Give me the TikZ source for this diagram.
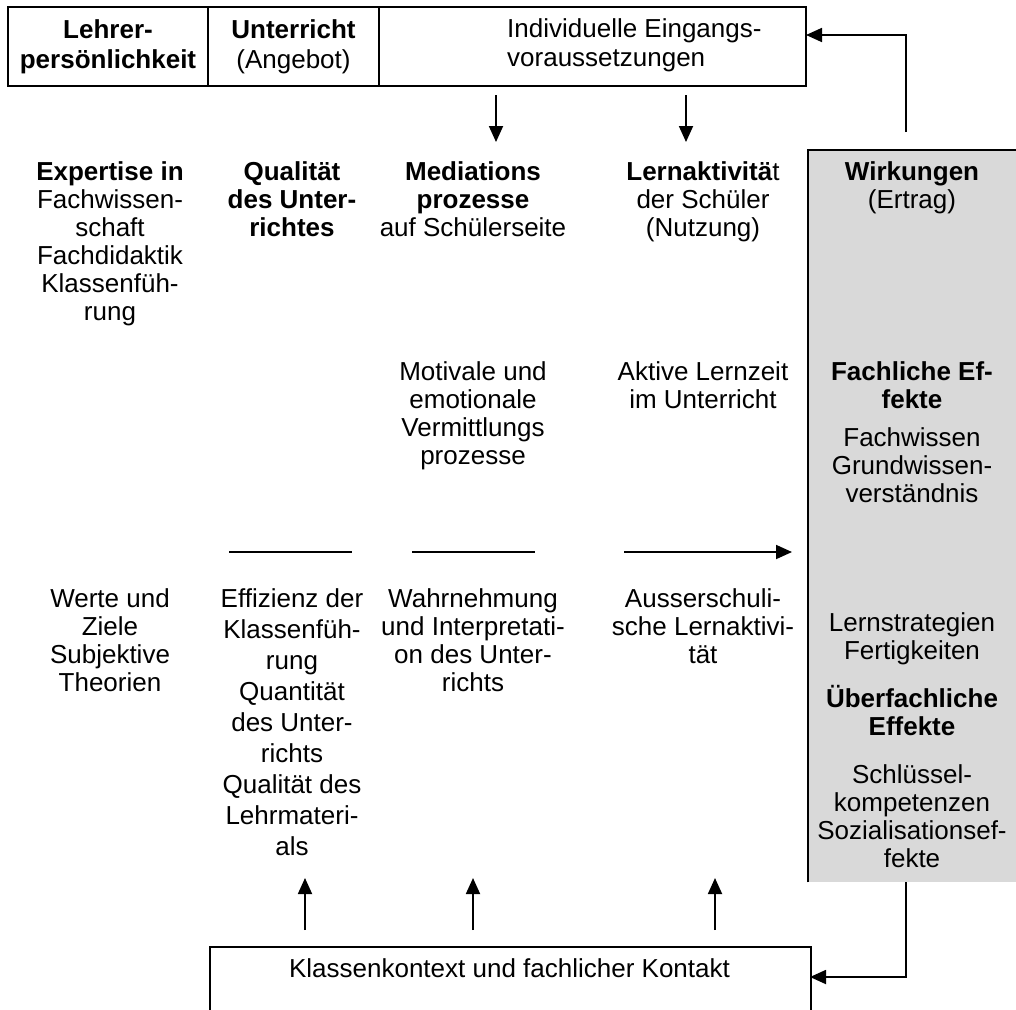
\documentclass[tikz,border=0pt]{standalone}
\usepackage{fontspec}
\setmainfont{Liberation Sans}
\usetikzlibrary{arrows.meta}

\tikzset{
  txt/.style={align=center, inner sep=0pt, anchor=north, font=\fontsize{26pt}{28pt}\selectfont},
  cell/.style={draw, line width=1.8pt, rectangle, inner sep=0pt, align=center, font=\fontsize{26pt}{30pt}\selectfont},
  arr/.style={line width=1.8pt, -{Triangle[length=16pt,width=14pt]}},
  rule/.style={line width=1.5pt},
}

\begin{document}
\begin{tikzpicture}[x=1pt,y=-1pt]
\useasboundingbox (0,0) rectangle (1016,1009);
\clip (0,0) rectangle (1016,1009);

% grey column
\node[fill=black!15, inner sep=0pt, minimum width=230pt, minimum height=732pt, anchor=north west] (wk) at (808,150) {};
\draw[line width=1.8pt] (wk.south west) -- (wk.north west) -- (wk.north east);

% top row
\begin{scope}[every node/.style={cell}]
    \node[minimum width=200pt, minimum height=79pt] (lp) at (108,46.5) {\textbf{Lehrer-}\\\textbf{persönlichkeit}};
    \node[minimum width=171pt, minimum height=79pt] (ua) at (293.5,46.5) {\textbf{Unterricht}\\(Angebot)};
    \node[minimum width=427pt, minimum height=79pt] (ie) at (592.5,46.5) {};
\end{scope}
\node[txt, anchor=north west, align=left, font=\fontsize{26pt}{29pt}\selectfont] (ietxt) at (507,18) {Individuelle Eingangs-\\voraussetzungen};

% bottom box
\node[draw, line width=1.8pt, inner sep=0pt, minimum width=601pt, minimum height=100pt, anchor=north west] (kk) at (209,946) {};
\node[txt] (kktxt) at (509.5,958) {Klassenkontext und fachlicher Kontakt};

% columns, upper row
\node[txt] (exp) at (110,161) {\textbf{Expertise in}\\Fachwissen-\\schaft\\Fachdidaktik\\Klassenfüh-\\rung};
\node[txt] (qual) at (292,161) {\textbf{Qualität}\\\textbf{des Unter-}\\\textbf{richtes}};
\node[txt] (med) at (473,161) {\textbf{Mediations}\\\textbf{prozesse}\\auf Schülerseite};
\node[txt] (lern) at (703,161) {\textbf{Lernaktivitä}t\\der Schüler\\(Nutzung)};
\node[txt] (wirk) at (912,161) {\textbf{Wirkungen}\\(Ertrag)};

% middle row
\node[txt] (motiv) at (473,361) {Motivale und\\emotionale\\Vermittlungs\\prozesse};
\node[txt] (zeit) at (703,361) {Aktive Lernzeit\\im Unterricht};
\node[txt] (fach) at (912,361) {\textbf{Fachliche Ef-}\\\textbf{fekte}\\[10pt]Fachwissen\\Grundwissen-\\verständnis};

% lower row
\node[txt] (werte) at (110,588) {Werte und\\Ziele\\Subjektive\\Theorien};
\node[txt, font=\fontsize{26pt}{31pt}\selectfont] (eff) at (292,588) {Effizienz der\\Klassenfüh-\\rung\\Quantität\\des Unter-\\richts\\Qualität des\\Lehrmateri-\\als};
\node[txt] (wahr) at (473,588) {Wahrnehmung\\und Interpretati-\\on des Unter-\\richts};
\node[txt] (auss) at (703,588) {Ausserschuli-\\sche Lernaktivi-\\tät};
\node[txt] (ueber) at (912,612) {Lernstrategien\\Fertigkeiten\\[20pt]\textbf{Überfachliche}\\\textbf{Effekte}\\[20pt]Schlüssel-\\kompetenzen\\Sozialisationsef-\\fekte};

% horizontal rules
\coordinate (h1a) at (229,552);
\coordinate (h1b) at (352,552);
\coordinate (h2a) at (412,552);
\coordinate (h2b) at (535,552);
\coordinate (h3a) at (624,552);
\coordinate (h3b) at (792,552);
\draw[rule] (h1a) -- (h1b);
\draw[rule] (h2a) -- (h2b);
\draw[arr] (h3a) -- (h3b);

% arrows down from the top box
\coordinate (d1a) at (496,95);
\coordinate (d1b) at (496,142);
\coordinate (d2a) at (686,95);
\coordinate (d2b) at (686,142);
\draw[arr] (d1a) -- (d1b);
\draw[arr] (d2a) -- (d2b);

% arrows up from the bottom box
\coordinate (u1a) at (305,930);
\coordinate (u1b) at (305,878);
\coordinate (u2a) at (473,930);
\coordinate (u2b) at (473,878);
\coordinate (u3a) at (715,930);
\coordinate (u3b) at (715,878);
\draw[arr] (u1a) -- (u1b);
\draw[arr] (u2a) -- (u2b);
\draw[arr] (u3a) -- (u3b);

% feedback loops
\coordinate (fb1) at (906,132);
\coordinate (fb2) at (806,35);
\coordinate (fb3) at (810,977);
\draw[arr] (fb1) |- (fb2);
\draw[arr] (wk.south -| fb1) |- (fb3);
\end{tikzpicture}
\end{document}
